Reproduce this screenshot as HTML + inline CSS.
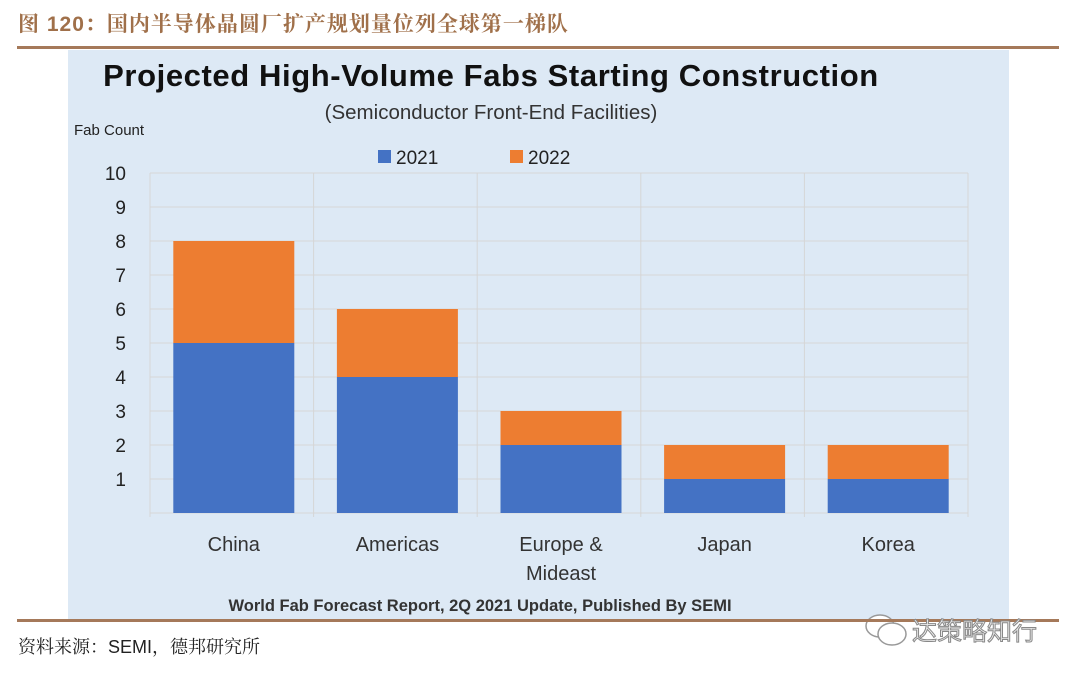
<!DOCTYPE html>
<html><head><meta charset="utf-8"><style>
body{margin:0;width:1080px;height:677px;background:#fff;position:relative;overflow:hidden;font-family:"Liberation Sans","Noto Sans CJK SC",sans-serif}
.hdr{position:absolute;left:18px;top:8px;font-size:21px;font-weight:bold;color:#a0704a;font-family:"Liberation Sans","Noto Serif CJK SC",serif;letter-spacing:1px}
.rule{position:absolute;left:17px;width:1042px;height:3px;background:#a5795a}
.panel{position:absolute;left:68px;top:50px;width:941px;height:570px;background:#dde9f5}
.src{position:absolute;left:18px;top:633px;font-size:18px;color:#222;font-family:"Liberation Sans","Noto Serif CJK SC",serif}
.wm{position:absolute;left:912px;top:612px;font-size:25px;color:#eee;-webkit-text-stroke:1px #888;font-family:"Noto Sans CJK SC",sans-serif}
</style></head><body>
<div class="hdr">图 120：国内半导体晶圆厂扩产规划量位列全球第一梯队</div>
<div class="rule" style="top:46px"></div>
<div class="panel"></div>
<svg id="chart" width="1080" height="677" style="position:absolute;left:0;top:0">
<text x="491" y="86" text-anchor="middle" font-size="31" font-weight="bold" fill="#111" letter-spacing="0.6">Projected High-Volume Fabs Starting Construction</text>
<text x="491" y="119" text-anchor="middle" font-size="20.5" fill="#333">(Semiconductor Front-End Facilities)</text>
<text x="74" y="135" font-size="15" fill="#222">Fab Count</text>
<rect x="378" y="150" width="13" height="13" fill="#4472c4"/>
<text x="396" y="164" font-size="19" fill="#222">2021</text>
<rect x="510" y="150" width="13" height="13" fill="#ed7d31"/>
<text x="528" y="164" font-size="19" fill="#222">2022</text>
<g id="grid"></g><g id="bars"></g><g id="labels"></g>
<text x="480" y="611" text-anchor="middle" font-size="16.5" font-weight="bold" fill="#333">World Fab Forecast Report, 2Q 2021 Update, Published By SEMI</text>
<g fill="#fff" stroke="#999" stroke-width="1.5">
<ellipse cx="880" cy="626" rx="14" ry="11"/><ellipse cx="892" cy="634" rx="14" ry="11"/>
</g>
</svg>
<div class="rule" style="top:619px"></div>
<div class="src">资料来源：SEMI，德邦研究所</div>
<div class="wm">达策略知行</div>
<script>
const categories=["China","Americas","Europe &|Mideast","Japan","Korea"];
const s2021=[5,4,2,1,1];
const s2022=[3,2,1,1,1];
const yTicks=[1,2,3,4,5,6,7,8,9,10];
const NS="http://www.w3.org/2000/svg";
const x0=150,x1=968,y0=513,yTop=173,yMax=10;
const bw=(x1-x0)/categories.length,barW=121;
const y=v=>y0-(y0-yTop)*v/yMax;
const xc=i=>x0+bw*(i+0.5)+2;
function mk(tag,attrs,parent){const e=document.createElementNS(NS,tag);for(const k in attrs)e.setAttribute(k,attrs[k]);document.getElementById(parent).appendChild(e);return e;}
for(let v=0;v<=yMax;v++){
 const l=mk('line',{x1:x0,x2:x1,y1:y(v),y2:y(v),stroke:'#d6d6d6','stroke-width':1},'grid');
 
 
}
for(let i=0;i<=categories.length;i++){
 const l=mk('line',{x1:x0+bw*i,x2:x0+bw*i,y1:yTop,y2:y0+4,stroke:'#d6d6d6','stroke-width':1},'grid');
 
 
}
yTicks.forEach(t=>{
 const e=mk('text',{x:126,y:y(t)+7,'text-anchor':'end','font-size':19,fill:'#222'},'labels');
 e.textContent=t;
 
 
});
categories.forEach((c,i)=>{
 const a=mk('rect',{x:xc(i)-barW/2,y:y(s2021[i]),width:barW,height:y0-y(s2021[i]),fill:'#4472c4'},'bars');
 
 
 const b=mk('rect',{x:xc(i)-barW/2,y:y(s2021[i]+s2022[i]),width:barW,height:y(s2021[i])-y(s2021[i]+s2022[i]),fill:'#ed7d31'},'bars');
 
 
 c.split('|').forEach((ln,j)=>{
  const t=mk('text',{x:xc(i),y:551+j*29,'text-anchor':'middle','font-size':20,fill:'#333'},'labels');
  t.textContent=ln;
  
  
 });
});
</script>
</body></html>
